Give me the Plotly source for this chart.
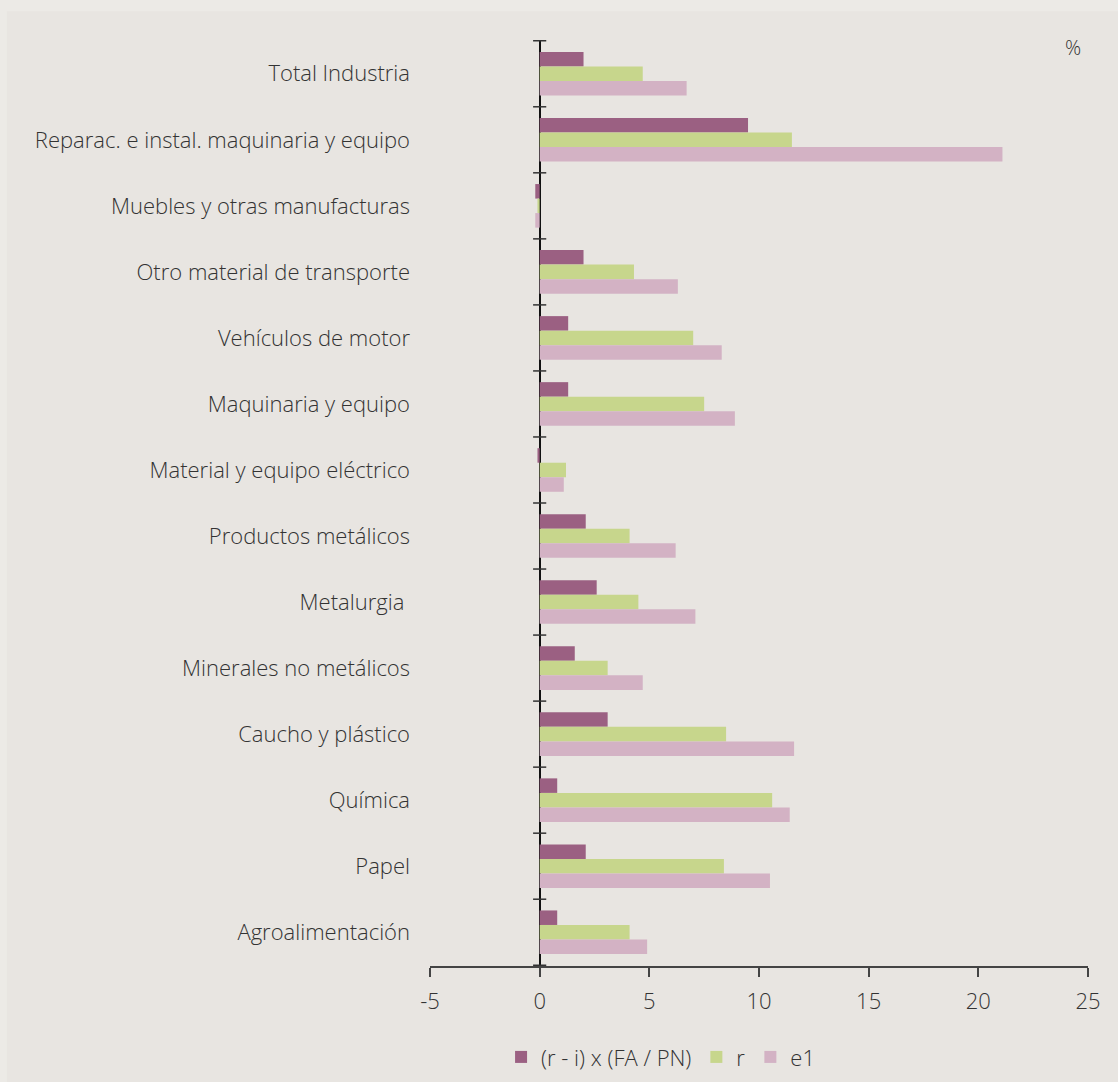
import plotly.graph_objects as go

categories = [
    "Total Industria",
    "Reparac. e instal. maquinaria y equipo",
    "Muebles y otras manufacturas",
    "Otro material de transporte",
    "Vehículos de motor",
    "Maquinaria y equipo",
    "Material y equipo eléctrico",
    "Productos metálicos",
    "Metalurgia ",
    "Minerales no metálicos",
    "Caucho y plástico",
    "Química",
    "Papel",
    "Agroalimentación",
]
ri_fa_pn = [2.0, 9.5, -0.2, 2.0, 1.3, 1.3, -0.1, 2.1, 2.6, 1.6, 3.1, 0.8, 2.1, 0.8]
r_vals = [4.7, 11.5, -0.1, 4.3, 7.0, 7.5, 1.2, 4.1, 4.5, 3.1, 8.5, 10.6, 8.4, 4.1]
e1_vals = [6.7, 21.1, -0.2, 6.3, 8.3, 8.9, 1.1, 6.2, 7.1, 4.7, 11.6, 11.4, 10.5, 4.9]

series_names = ["(r - i) x (FA / PN)", "r", "e1"]
series_colors = ["#9B6082", "#C7D68C", "#D3B2C4"]
x_ticks = [-5, 0, 5, 10, 15, 20, 25]
x_tick_labels = ["-5", "0", "5", "10", "15", "20", "25"]

FONT = "Open Sans, Lato, sans-serif"
TXT = "#333333"
FS = 22

fig = go.Figure()
for name, vals, col in zip(series_names, [ri_fa_pn, r_vals, e1_vals], series_colors):
    fig.add_trace(go.Bar(
        y=categories, x=vals, name=name, orientation="h",
        marker=dict(color=col, line=dict(width=0)),
    ))

# small category tick marks crossing the zero line
for i in range(len(categories) + 1):
    fig.add_shape(type="line", xref="x", yref="y", x0=-0.3, x1=0.3,
                  y0=i - 0.5, y1=i - 0.5, line=dict(color="#333333", width=1.5))

# inner panel
fig.add_shape(type="rect", xref="paper", yref="paper", x0=-0.643, x1=1.06,
              y0=-0.14, y1=1.031, fillcolor="#E8E5E1", line=dict(width=0), layer="below")

fig.add_annotation(text="%", xref="paper", yref="paper", x=0.977, y=0.992,
                   showarrow=False, font=dict(size=20, color=TXT, family=FONT, weight=300),
                   xanchor="center", yanchor="middle")

fig.update_layout(
    width=1118, height=1082,
    paper_bgcolor="#ECEAE6", plot_bgcolor="rgba(0,0,0,0)",
    margin=dict(l=430, r=30, t=40, b=116, autoexpand=False),
    font=dict(family=FONT, size=FS, color=TXT, weight=300),
    barmode="group", bargap=0.34, bargroupgap=0.0,
    showlegend=True,
    legend=dict(orientation="h", x=0.108, xanchor="left",
                yref="container", y=0.023, yanchor="middle",
                font=dict(size=FS, family=FONT, weight=300), bgcolor="rgba(0,0,0,0)",
                itemwidth=30),
    xaxis=dict(range=[-5, 25], tickvals=x_ticks, ticktext=x_tick_labels, showgrid=False,
               showline=True, linecolor="#444444", linewidth=1.5,
               ticks="outside", ticklen=9, tickcolor="#444444", tickwidth=1.5,
               zeroline=True, zerolinecolor="#111111", zerolinewidth=2,
               ticklabelstandoff=6, tickfont=dict(size=FS)),
    yaxis=dict(categoryorder="array", categoryarray=categories,
               autorange="reversed", showgrid=False, showline=False,
               ticks="", ticklabelstandoff=19, tickfont=dict(size=FS)),
)

fig.write_html("out.html", config={"displayModeBar": False},
               post_script="document.body.style.margin='0';document.body.style.background='#ECEAE6';")
